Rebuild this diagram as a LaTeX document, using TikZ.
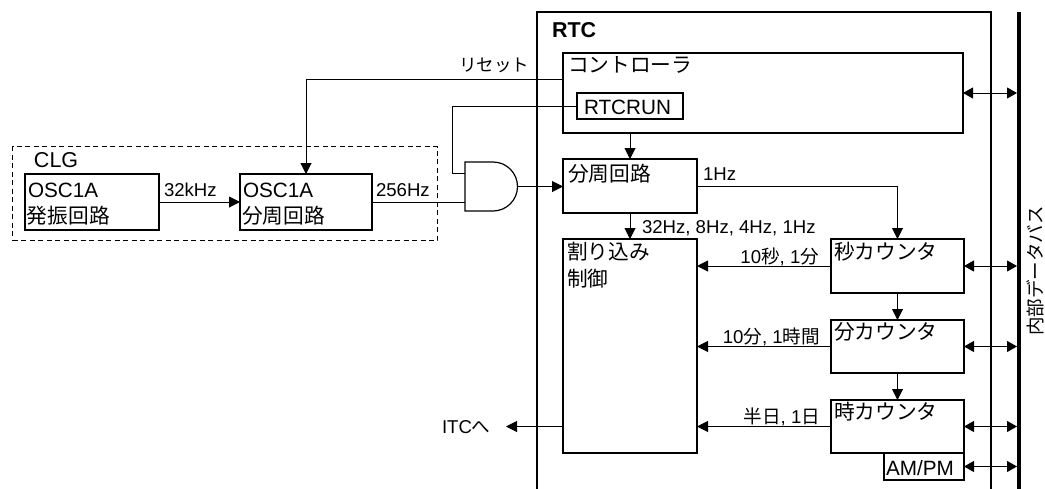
\documentclass[tikz,border=0pt]{standalone}
\usepackage{fontspec}
\setmainfont{Liberation Sans}
\newfontfamily\jp{Noto Sans CJK JP}
\usetikzlibrary{arrows.meta,calc}
\tikzset{
  box/.style={draw, line width=1.2pt, anchor=north west, inner sep=0pt, outer sep=0pt},
  txt/.style={inner sep=0pt, outer sep=0pt, anchor=base west, font=\fontsize{20.7}{24}\selectfont},
  lbl/.style={inner sep=0pt, outer sep=0pt, anchor=base west, font=\fontsize{18.6}{22}\selectfont},
  lble/.style={lbl, anchor=base east},
  conn/.style={line width=1pt},
  arr/.style={conn, -{Triangle[length=11pt,width=11pt]}},
  darr/.style={conn, {Triangle[length=10pt,width=11pt]}-{Triangle[length=10pt,width=11pt]}},
}
\begin{document}
\begin{tikzpicture}[x=1pt,y=-1pt]
\useasboundingbox (0,0) rectangle (1045,488);
\fill[white] (0,0) rectangle (1045,488);

% CLG group
\node[draw, dashed, dash pattern=on 5pt off 3.5pt, line width=1pt, anchor=north west, minimum width=425pt, minimum height=94pt, inner sep=0pt] (clg) at (12,146) {};
\node[txt, font=\fontsize{21.5}{24}\selectfont] (clgt) at (34,167) {CLG};
\node[box, minimum width=134pt, minimum height=56pt] (osc) at (25,174) {};
\node[txt] (osct1) at (28,197) {OSC1A};
\node[txt] (osct2) at (27,223) {\jp 発振回路};
\node[box, minimum width=132pt, minimum height=56pt] (div1) at (240,174) {};
\node[txt] (div1t1) at (243,197) {OSC1A};
\node[txt] (div1t2) at (242,223) {\jp 分周回路};
\node[lbl] (l32k) at (164,196) {32kHz};
\node[lbl] (l256) at (376,196) {256Hz};

% AND gate
\draw[line width=1.2pt] (465,162) -- (493,162) arc[start angle=90, end angle=-90, radius=24.5pt] -- (465,211) -- cycle;
\coordinate (gin1) at (465,173);
\coordinate (gin2) at (465,202);
\coordinate (gout) at (517.5,186.5);

% RTC frame
\draw[line width=2pt] (537,492) |- (991,12) -- (991,492);
\node[txt, font=\bfseries\fontsize{21.5}{24}\selectfont] (rtct) at (552,37) {RTC};

% bus
\coordinate (busT) at (1019,12);
\coordinate (busB) at (1019,492);
\draw[line width=4pt] (busT) -- (busB);
\coordinate (busL) at (1017,0);
\node[rotate=90, inner sep=0pt, font=\fontsize{18.5}{22}\selectfont] (buslbl) at (1035,271) {\jp 内部データバス};

% controller
\node[box, minimum width=400pt, minimum height=80pt] (ctrl) at (563,53) {};
\node[txt] (ctrlt) at (568,72) {\jp コントローラ};
\node[box, minimum width=106pt, minimum height=26pt] (rtcrun) at (577,93) {};
\node[txt] (rtcrunt) at (584,114) {RTCRUN};
\node[lbl, font=\fontsize{17.5}{22}\selectfont] (lrst) at (459,71) {\jp リセット};

% divider in RTC
\node[box, minimum width=134pt, minimum height=54pt] (div2) at (563,159) {};
\node[txt] (div2t) at (568,181) {\jp 分周回路};
\node[lbl] (l1hz) at (703,180) {1Hz};
\node[lbl] (lfreq) at (642,233) {32Hz, 8Hz, 4Hz, 1Hz};

% interrupt
\node[box, minimum width=134pt, minimum height=214pt] (intr) at (563,239) {};
\node[txt] (intrt1) at (567,259) {\jp 割り込み};
\node[txt] (intrt2) at (567,286) {\jp 制御};

% counters
\node[box, minimum width=133pt, minimum height=54pt] (sec) at (831,239) {};
\node[txt] (sect) at (834,259) {\jp 秒カウンタ};
\node[box, minimum width=133pt, minimum height=53pt] (min) at (831,320) {};
\node[txt] (mint) at (834,339) {\jp 分カウンタ};
\node[box, minimum width=133pt, minimum height=53pt] (hour) at (831,400) {};
\node[txt] (hourt) at (834,419) {\jp 時カウンタ};
\node[box, minimum width=80pt, minimum height=27pt] (ampm) at (884,453) {};
\node[txt] (ampmt) at (886,475) {AM/PM};

\node[lble] (lsec) at (819,263) {10{\jp 秒}, 1{\jp 分}};
\node[lble] (lmin) at (820,343) {10{\jp 分}, 1{\jp 時間}};
\node[lble] (lhour) at (820,423) {{\jp 半日}, 1{\jp 日}};

\node[lbl] (itc) at (442,433) {ITC{\jp へ}};
\coordinate (itcend) at (506,426.5);

% connectors
\draw[arr] (osc.east) -- (div1.west);
\draw[conn] (div1.east |- gin2) -- (gin2);
\coordinate (rst) at (563,79);
\draw[arr] (rst) -| (div1.north);
\coordinate (rk) at (452,173);
\draw[conn] (rtcrun.west) -| (rk) -- (gin1);
\draw[arr] (gout) -- (div2.west |- gout);
\draw[arr] (div2.north |- ctrl.south) -- (div2.north);
\draw[arr] (div2.south) -- (intr.north);
\draw[arr] (div2.east) -| (sec.north);
\draw[arr] (sec.south) -- (min.north);
\draw[arr] (min.south) -- (hour.north);
\draw[arr] (sec.west) -- (sec.west -| intr.east);
\draw[arr] (min.west) -- (min.west -| intr.east);
\draw[arr] (hour.west) -- (hour.west -| intr.east);
\draw[arr] (intr.west |- itcend) -- (itcend);
\draw[darr] (ctrl.east) -- (ctrl.east -| busL);
\draw[darr] (sec.east) -- (sec.east -| busL);
\draw[darr] (min.east) -- (min.east -| busL);
\draw[darr] (hour.east) -- (hour.east -| busL);
\draw[darr] (ampm.east) -- (ampm.east -| busL);
\end{tikzpicture}
\end{document}
